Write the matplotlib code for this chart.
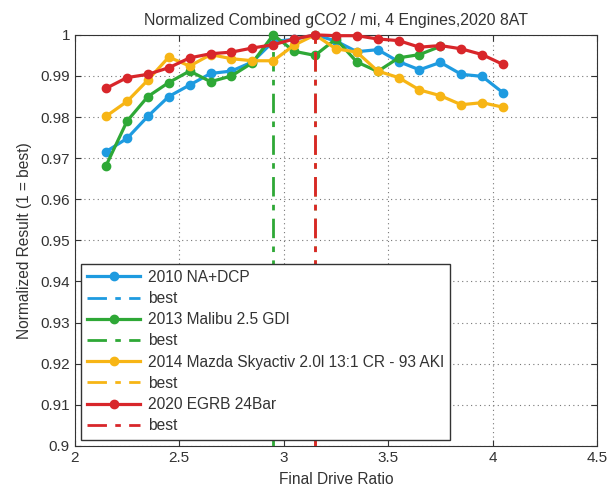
import matplotlib
matplotlib.use("Agg")
import matplotlib.pyplot as plt

plt.rcParams["font.family"] = ["Liberation Sans", "DejaVu Sans"]

# final drive ratios swept for each engine
ratios = [2.15, 2.25, 2.35, 2.45, 2.55, 2.65, 2.75, 2.85, 2.95, 3.05,
          3.15, 3.25, 3.35, 3.45, 3.55, 3.65, 3.75, 3.85, 3.95, 4.05]

na_dcp = [0.9716, 0.9748, 0.9802, 0.9850, 0.9878, 0.9906, 0.9912, 0.9934, 0.9984, 0.9989,
          1.0000, 0.9985, 0.9959, 0.9964, 0.9935, 0.9915, 0.9933, 0.9904, 0.9899, 0.9859]
malibu = [0.9682, 0.9790, 0.9850, 0.9884, 0.9912, 0.9886, 0.9900, 0.9932, 1.0000, 0.9960,
          0.9950, 0.9990, 0.9934, 0.9911, 0.9944, 0.9952, 0.9972]
skyactiv = [0.9802, 0.9838, 0.9890, 0.9946, 0.9924, 0.9952, 0.9942, 0.9937, 0.9937, 0.9975,
            1.0000, 0.9966, 0.9958, 0.9912, 0.9896, 0.9866, 0.9852, 0.9830, 0.9835, 0.9824]
egrb = [0.9870, 0.9896, 0.9904, 0.9920, 0.9944, 0.9954, 0.9958, 0.9968, 0.9976, 0.9990,
        1.0000, 0.9998, 0.9998, 0.9990, 0.9986, 0.9970, 0.9974, 0.9966, 0.9952, 0.9928]

names = ["2010 NA+DCP", "2013 Malibu 2.5 GDI",
         "2014 Mazda Skyactiv 2.0l 13:1 CR - 93 AKI", "2020 EGRB 24Bar"]
results = [na_dcp, malibu, skyactiv, egrb]
colors = ["#1e9be0", "#2ea836", "#f7b515", "#d8262a"]

fig = plt.figure(figsize=(6.13, 4.91), dpi=100)
ax = fig.add_axes([0.122, 0.092, 0.852, 0.837])

for name, res, c in zip(names, results, colors):
    x = ratios[:len(res)]
    ax.plot(x, res, "-o", color=c, lw=2.3, ms=6, label=name, clip_on=False, zorder=3)
    best = x[res.index(max(res))]
    ax.plot([best, best], [0.9, 1.0], color=c, lw=2, dashes=(7, 3, 2, 3),
            label="best", zorder=3)

ax.set_xlim(2, 4.5)
ax.set_ylim(0.9, 1.0)
ax.set_xticks([2, 2.5, 3, 3.5, 4, 4.5])
ax.set_xticklabels(["2", "2.5", "3", "3.5", "4", "4.5"])
ax.set_yticks([0.9 + 0.01 * i for i in range(11)])
ax.set_yticklabels(["0.9", "0.91", "0.92", "0.93", "0.94", "0.95",
                    "0.96", "0.97", "0.98", "0.99", "1"])
ax.tick_params(direction="in", top=True, right=True, labelsize=11,
               length=4, color="#333333", labelcolor="#333333")
ax.grid(True, linestyle=(0, (1, 3)), color="#777777", lw=0.8)
for s in ax.spines.values():
    s.set_color("#333333")

ax.set_title("Normalized Combined gCO2 / mi, 4 Engines,2020 8AT",
             fontsize=11.4, color="#333333", pad=7)
ax.set_xlabel("Final Drive Ratio", fontsize=11.2, color="#333333", labelpad=5)
ax.set_ylabel("Normalized Result (1 = best)", fontsize=11.2, color="#333333", labelpad=6)

leg = ax.legend(loc="lower left", fontsize=11.2, handlelength=3.4, numpoints=1,
                fancybox=False, framealpha=1, edgecolor="#333333",
                borderaxespad=0.4, labelspacing=0.4, handletextpad=0.5)
leg.get_frame().set_linewidth(1.0)
for t in leg.get_texts():
    t.set_color("#333333")

fig.savefig("out.png", dpi=100)
